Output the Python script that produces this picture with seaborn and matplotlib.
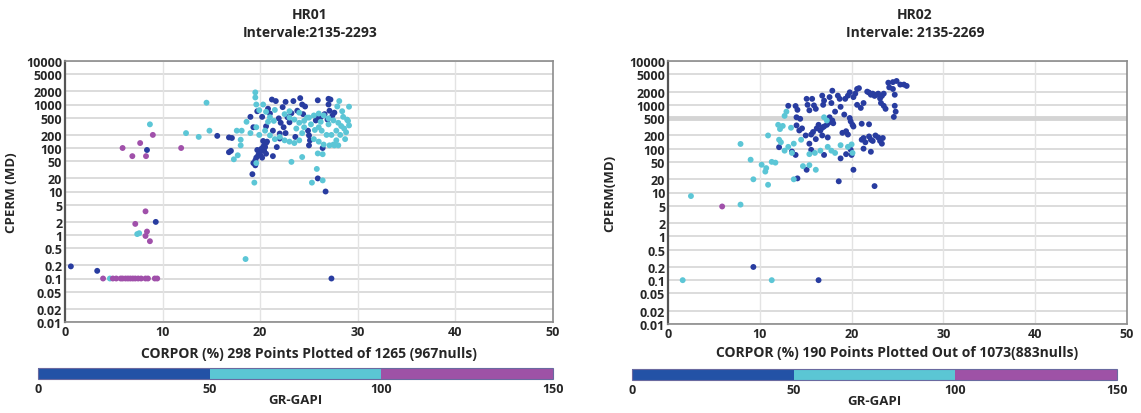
import pandas as pd
import seaborn as sns
import matplotlib.pyplot as plt
from matplotlib.colors import ListedColormap, BoundaryNorm
from matplotlib.cm import ScalarMappable

# GR classes used for colouring the points
gr_classes = ['0-50', '50-100', '100-150']
gr_bounds = [0, 50, 100, 150]
point_colors = ['#283ca0', '#5cc6d6', '#a050aa']
bar_colors = ['#2352a6', '#5bc6d4', '#9e52a6']

y_ticks = [10000, 5000, 2000, 1000, 500, 200, 100, 50, 20, 10, 5, 2, 1,
           0.5, 0.2, 0.1, 0.05, 0.02, 0.01]
y_tick_labels = ['10000', '5000', '2000', '1000', '500', '200', '100', '50',
                 '20', '10', '5', '2', '1', '0.5', '0.2', '0.1', '0.05',
                 '0.02', '0.01']
x_ticks = [0, 10, 20, 30, 40, 50]

# HR01 points as (CORPOR %, CPERM md), split by GR class
hr01_gr_low = [
    (0.6, 0.19), (3.3, 0.15), (9.3, 2.0), (8.4, 90), (27.3, 0.1), (26.7, 10),
    (15.6, 190), (16.8, 175), (16.8, 80), (17.1, 170), (17.0, 86),
    (19.0, 520), (19.3, 300), (20.2, 520), (19.7, 700),
    (19.2, 25), (19.3, 45), (19.5, 52), (19.6, 60), (19.8, 68), (19.9, 78),
    (20.0, 85), (20.1, 95), (20.3, 105), (20.4, 115), (20.6, 130), (20.7, 140),
    (19.7, 90), (20.0, 70), (20.2, 60), (19.5, 40),
    (21.2, 1300), (21.6, 1200), (22.3, 870), (22.6, 1150), (23.4, 1200),
    (24.1, 1400), (24.3, 1000), (23.8, 720), (23.2, 630), (22.8, 510),
    (23.0, 390), (22.4, 300), (22.6, 220), (22.0, 215), (22.0, 165),
    (21.3, 250), (20.6, 315), (20.3, 145), (20.5, 105), (20.4, 87),
    (20.6, 74), (21.7, 105), (21.3, 65), (21.0, 620), (21.9, 480),
    (22.1, 380), (20.8, 800),
    (24.9, 250), (25.0, 195), (25.1, 150), (25.0, 115), (25.9, 1250),
    (27.0, 1350), (27.2, 1300), (27.0, 1000), (27.1, 720), (27.4, 560),
    (26.6, 600), (25.9, 510), (26.2, 510), (25.7, 430), (25.9, 20),
    (24.6, 900), (26.9, 450), (27.6, 650), (23.6, 180), (26.4, 100),
    (24.4, 600),
]
hr01_gr_mid = [
    (8.7, 350), (7.6, 1.1), (7.4, 1.05), (4.6, 0.1), (18.5, 0.28),
    (12.4, 220), (13.7, 180), (14.8, 250), (14.5, 1100), (17.6, 250),
    (18.1, 250), (18.0, 155), (18.0, 115), (17.7, 68), (17.3, 55),
    (19.0, 220), (19.5, 1900), (19.5, 1450), (19.6, 1000), (19.9, 740),
    (19.6, 300), (19.9, 200), (19.4, 16), (19.6, 45), (18.6, 400),
    (20.3, 1000), (20.6, 680), (21.0, 510), (21.4, 420), (21.0, 195),
    (21.5, 160), (23.2, 48), (24.3, 62), (25.8, 33), (25.3, 16), (26.4, 18),
    (25.9, 75), (26.4, 72), (27.1, 115), (27.6, 115), (28.0, 115),
    (28.1, 1200), (29.1, 890),
    (22.5, 600), (23.0, 500), (23.5, 450), (24.0, 380), (24.5, 420),
    (25.0, 500), (25.5, 560), (26.0, 620), (26.5, 560), (27.0, 480),
    (27.5, 430), (28.0, 380), (28.3, 320), (28.6, 280), (28.8, 230),
    (28.2, 200), (27.8, 150), (27.5, 120), (26.5, 120), (26.0, 140),
    (25.5, 160), (24.8, 500), (24.0, 650), (23.0, 700), (21.5, 750),
    (20.8, 400), (20.5, 250), (22.0, 180), (22.5, 150), (23.0, 140),
    (23.5, 130), (24.0, 150), (24.5, 300), (25.2, 350), (26.0, 300),
    (26.3, 250), (26.8, 200), (27.3, 200), (27.8, 250), (28.5, 520),
    (28.9, 450), (27.9, 900), (28.4, 700), (29.0, 420), (27.0, 350),
    (26.2, 400), (28.7, 160), (29.1, 330), (25.6, 260), (24.3, 220),
    (23.7, 280),
]
hr01_gr_high = [
    (5.9, 100), (6.9, 65), (7.7, 130), (8.3, 65), (9.0, 200), (11.9, 100),
    (8.25, 3.5), (7.2, 1.8), (8.4, 1.2), (8.25, 0.95), (8.7, 0.72),
    (3.9, 0.1), (4.9, 0.1), (5.25, 0.1), (5.7, 0.1), (5.9, 0.1), (6.2, 0.1),
    (6.45, 0.1), (6.7, 0.1), (6.95, 0.1), (7.2, 0.1), (7.5, 0.1), (7.8, 0.1),
    (8.25, 0.1), (8.5, 0.1), (9.2, 0.1), (9.45, 0.1),
]

# HR02 points
hr02_gr_low = [
    (13.1, 950), (13.9, 940), (14.1, 770), (14.0, 520), (14.4, 480),
    (15.1, 1370), (15.2, 1000), (15.4, 750), (15.7, 1370), (15.9, 970),
    (16.1, 810), (16.8, 1620), (17.0, 1250), (16.9, 1000), (17.9, 2100),
    (17.6, 1500), (17.8, 1100), (18.5, 1620), (18.7, 1370), (19.3, 1370),
    (19.6, 1620), (19.8, 1930), (20.2, 1500), (20.4, 1800), (20.6, 2300),
    (20.8, 2400), (21.3, 1100), (21.7, 2000), (21.9, 1900), (22.1, 1700),
    (22.3, 1800), (22.5, 1600), (22.7, 1700), (22.9, 1800), (23.1, 1400),
    (23.3, 1600), (23.5, 1800), (23.2, 1100), (23.5, 950), (23.7, 810),
    (24.7, 950), (24.8, 700), (24.6, 530), (24.0, 3200), (24.5, 3300),
    (24.9, 3500), (25.3, 2900), (25.7, 2900), (26.0, 2700), (24.1, 2500),
    (24.5, 2300), (24.7, 1700),
    (17.6, 520), (17.9, 440), (17.5, 390), (18.0, 380), (16.8, 300),
    (16.6, 260), (16.2, 290), (15.8, 240), (17.0, 320), (16.4, 350),
    (17.3, 350), (14.0, 340), (14.3, 260), (14.6, 290), (15.0, 200),
    (15.6, 210), (16.1, 165), (16.8, 200), (17.4, 180), (12.1, 108),
    (13.5, 86), (13.9, 72), (15.4, 130), (15.6, 94), (17.0, 72), (18.8, 60),
    (19.4, 75), (19.9, 95), (20.0, 72), (15.1, 33), (20.2, 33), (14.1, 21),
    (18.6, 18), (22.5, 14), (19.8, 500), (19.9, 420), (20.1, 350),
    (20.2, 320), (21.1, 370), (21.9, 360), (19.0, 230), (19.4, 250),
    (19.6, 210), (21.1, 160), (21.3, 175), (21.5, 140), (21.9, 190),
    (22.1, 160), (22.3, 150), (22.6, 200), (22.9, 180), (23.1, 150),
    (23.3, 130), (23.4, 175), (21.3, 100), (22.1, 85), (9.3, 0.2),
    (16.4, 0.1), (18.2, 700), (18.8, 900), (19.2, 600), (20.6, 1000),
    (21.0, 850),
]
hr02_gr_mid = [
    (7.9, 128), (9.0, 56), (9.3, 20), (10.2, 43), (10.6, 30), (10.7, 36),
    (10.9, 15), (11.3, 50), (11.7, 48), (10.9, 200), (12.1, 160),
    (12.2, 280), (12.5, 330), (12.7, 560), (12.9, 700), (12.3, 140),
    (12.7, 90), (13.1, 110), (13.5, 80), (13.7, 130), (14.7, 40), (15.4, 42),
    (16.1, 33), (15.4, 75), (16.0, 80), (16.6, 90), (17.4, 110), (17.8, 90),
    (18.2, 80), (18.8, 120), (19.6, 110), (20.0, 125), (20.1, 80),
    (17.0, 520), (17.3, 440), (13.7, 20), (2.5, 8.3), (7.9, 5.3),
    (1.6, 0.1), (11.3, 0.1), (12.0, 350), (13.4, 300), (14.5, 160),
]
hr02_gr_high = [(5.9, 4.8)]


def to_frame(groups):
    rows = []
    for cls, pts in zip(gr_classes, groups):
        for por, perm in pts:
            rows.append({'por': por, 'perm': perm, 'gr': cls})
    return pd.DataFrame(rows)


sns.set_style('white')
plt.rcParams['font.family'] = ['Open Sans', 'DejaVu Sans']
plt.rcParams['font.weight'] = 'bold'
plt.rcParams['axes.labelweight'] = 'bold'
text_color = '#262626'

W, H = 1141, 414
fig = plt.figure(figsize=(W / 100, H / 100), dpi=100)


def box(x0, y0, x1, y1):
    return [x0 / W, 1 - y1 / H, (x1 - x0) / W, (y1 - y0) / H]


panels = [
    dict(groups=[hr01_gr_low, hr01_gr_mid, hr01_gr_high],
         ax=box(65, 62, 553, 323), cax=box(38, 369, 553, 380),
         title=('HR01', 'Intervale:2135-2293'), cx=310,
         xlabel='CORPOR (%) 298 Points Plotted of 1265 (967nulls)',
         ylabel='CPERM (MD)', ylab_x=18, xlab_y=347, band=False),
    dict(groups=[hr02_gr_low, hr02_gr_mid, hr02_gr_high],
         ax=box(668, 62, 1127, 325), cax=box(632, 370, 1117, 381),
         title=('HR02', 'Intervale: 2135-2269'), cx=915,
         xlabel='CORPOR (%) 190 Points Plotted Out of 1073(883nulls)',
         ylabel='CPERM(MD)', ylab_x=616, xlab_y=346, band=True),
]

cmap = ListedColormap(bar_colors)
norm = BoundaryNorm(gr_bounds, cmap.N)

for p in panels:
    ax = fig.add_axes(p['ax'])
    df = to_frame(p['groups'])

    for yv in y_ticks:
        ax.axhline(yv, color='#d9d9d9', lw=1.3, zorder=0)
    for xv in x_ticks[1:-1]:
        ax.axvline(xv, color='#e3e3e3', lw=1.0, zorder=0)
    if p['band']:
        ax.axhline(500, color='#d4d4d4', lw=3.5, zorder=0)

    sns.scatterplot(
        data=df, x='por', y='perm', hue='gr',
        palette=dict(zip(gr_classes, point_colors)),
        s=18, edgecolor='none', legend=False, ax=ax, zorder=3,
    )

    ax.set_yscale('log')
    ax.set_ylim(0.01, 10000)
    ax.set_xlim(0, 50)
    ax.set_yticks(y_ticks)
    ax.set_yticklabels(y_tick_labels)
    ax.minorticks_off()
    ax.set_xticks(x_ticks)
    ax.set_xticklabels([str(v) for v in x_ticks])
    ax.tick_params(length=0, labelsize=9, labelcolor=text_color, pad=2)

    for side in ['top', 'right', 'bottom']:
        ax.spines[side].set_color('#8c8c8c')
        ax.spines[side].set_linewidth(1.2)
    ax.spines['left'].set_color('#555555')
    ax.spines['left'].set_linewidth(1.6)

    ax.set_xlabel(p['xlabel'], fontsize=10, color=text_color)
    ax_box = p['ax']
    ax.xaxis.set_label_coords(0.5, (1 - p['xlab_y'] / H - ax_box[1]) / ax_box[3])
    ax.set_ylabel(p['ylabel'], fontsize=9.5, color=text_color)
    ax.yaxis.set_label_coords((p['ylab_x'] / W - ax_box[0]) / ax_box[2], 0.5)

    fig.text(p['cx'] / W, 1 - 15 / H, p['title'][0], ha='center', va='center',
             fontsize=10, fontweight='bold', color=text_color)
    fig.text(p['cx'] / W, 1 - 33 / H, p['title'][1], ha='center', va='center',
             fontsize=10, fontweight='bold', color=text_color)

    cax = fig.add_axes(p['cax'])
    cb = fig.colorbar(ScalarMappable(norm=norm, cmap=cmap), cax=cax,
                      orientation='horizontal', ticks=gr_bounds)
    cb.outline.set_edgecolor('#6a6aa0')
    cb.outline.set_linewidth(0.8)
    cb.ax.tick_params(length=0, labelsize=9, labelcolor=text_color, pad=2)
    cb.set_label('GR-GAPI', fontsize=9.5, color=text_color, labelpad=-1)

plt.savefig('out.png', dpi=100)
